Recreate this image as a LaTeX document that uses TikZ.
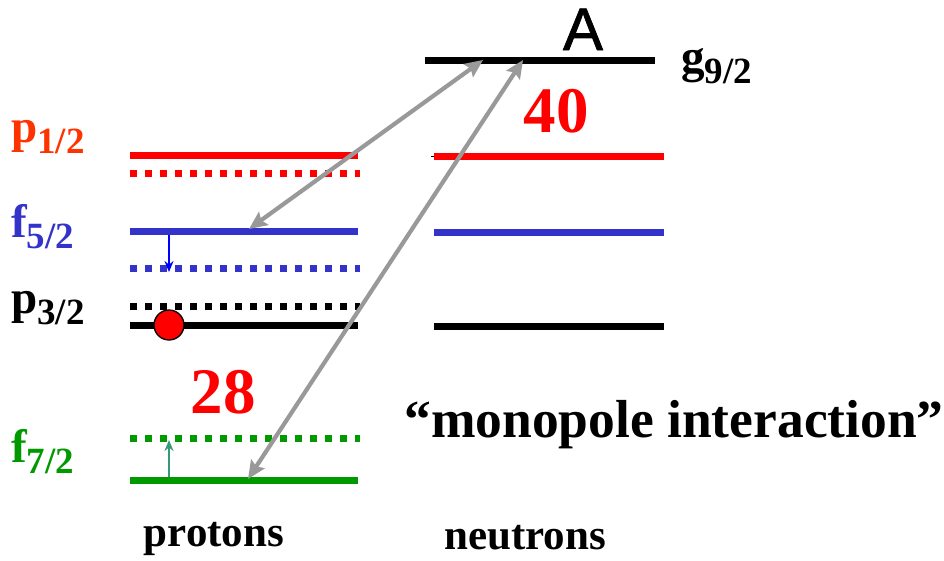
\documentclass[tikz,border=0pt]{standalone}
\usepackage{fontspec}
\setmainfont{Liberation Serif}
\newfontfamily\sansA[FakeBold=1.2]{Liberation Sans}
\usetikzlibrary{arrows.meta}
\definecolor{lvred}{HTML}{FF0000}
\definecolor{lborange}{HTML}{FF3300}
\definecolor{lvblue}{HTML}{3333CC}
\definecolor{lvgreen}{HTML}{009900}
\definecolor{teal2}{HTML}{339977}
\definecolor{arrgray}{HTML}{999999}
\newcommand{\lvsub}[1]{\raisebox{-11pt}{\fontsize{37}{37}\selectfont #1}}
\begin{document}
\begin{tikzpicture}[x=1pt,y=-1pt,
  solidlvl/.style={line width=7pt},
  dotlvl/.style={line width=7pt,dash pattern=on 7pt off 8pt},
  lbl/.style={font=\bfseries\fontsize{47}{47}\selectfont,inner sep=0pt,anchor=base west},
  magic/.style={font=\bfseries\fontsize{65}{65}\selectfont,text=lvred,inner sep=0pt,anchor=base},
  gray2/.style={arrgray,line width=4.2pt,{Stealth[length=18pt,width=16pt,inset=3pt]}-{Stealth[length=18pt,width=16pt,inset=3pt]}},
  shiftarr/.style={line width=2pt,-{Stealth[length=11pt,width=9pt]}}
]
\useasboundingbox (0,0) rectangle (944,560);
% neutron levels
\draw[solidlvl,black] (425,60) -- (655,60);
\coordinate (g1) at (483,60);
\coordinate (g2) at (523,60);
\draw[solidlvl,lvred] (434,156) -- (664,156);
\draw[line width=1pt] (431,156) -- (434,156);
\draw[solidlvl,lvblue] (434,232) -- (664,232);
\draw[solidlvl,black] (434,326) -- (664,326);
% proton levels
\draw[solidlvl,lvred] (130,155) -- (358,155);
\draw[dotlvl,lvred] (130,173) -- (360,173);
\draw[solidlvl,lvblue] (130,231) -- (358,231);
\draw[dotlvl,lvblue] (130,268) -- (360,268);
\draw[dotlvl,black] (130,306) -- (360,306);
\draw[solidlvl,black] (130,325) -- (358,325);
\draw[dotlvl,lvgreen] (130,438) -- (360,438);
\draw[solidlvl,lvgreen] (130,480) -- (358,480);
\coordinate (f5) at (249,229);
\coordinate (f7) at (248,479);
\coordinate (bs) at (169,235);
\coordinate (be) at (169,272);
\coordinate (gs) at (169,477);
\coordinate (ge) at (169,440);
% shifts
\draw[shiftarr,blue] (bs) -- (be);
\draw[shiftarr,teal2] (gs) -- (ge);
% particle
\node[circle,draw=black,line width=1.3pt,fill=lvred,minimum size=30pt,inner sep=0pt] (ball) at (169,325) {};
% interaction arrows
\draw[gray2] (f5) -- (g1);
\draw[gray2] (f7) -- (g2);
% labels
\node[font=\sansA\fontsize{60}{60}\selectfont,inner sep=0pt,anchor=base] (A) at (583,50) {A};
\node[lbl] (g92) at (681,72) {g\lvsub{9/2}};
\node[magic] (n40) at (556,132) {40};
\node[magic] (n28) at (223,413) {28};
\node[lbl,text=lborange] (p12) at (11,142) {p\lvsub{1/2}};
\node[lbl,text=lvblue] (f52) at (11,237) {f\lvsub{5/2}};
\node[lbl,text=black] (p32) at (11,313) {p\lvsub{3/2}};
\node[lbl,text=lvgreen] (f72) at (11,462) {f\lvsub{7/2}};
\node[font=\bfseries\fontsize{53.5}{54}\selectfont,inner sep=0pt,anchor=base] (mono) at (674,437) {``monopole interaction''};
\node[font=\bfseries\fontsize{43}{43}\selectfont,inner sep=0pt,anchor=base] (prot) at (214,546) {protons};
\node[font=\bfseries\fontsize{43}{43}\selectfont,inner sep=0pt,anchor=base] (neut) at (525,549) {neutrons};
\end{tikzpicture}
\end{document}
